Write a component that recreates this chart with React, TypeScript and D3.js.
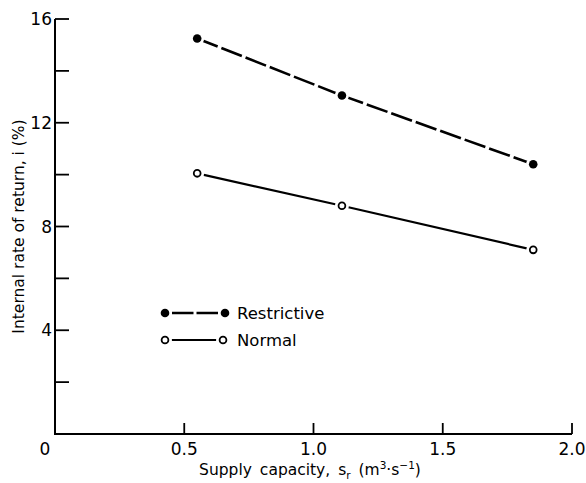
import * as d3 from "d3";

// values
const supply = [0.55, 1.11, 1.85];
const restrictive = [15.25, 13.05, 10.4];
const normal = [10.05, 8.8, 7.1];
const xTicks = [0.5, 1.0, 1.5, 2.0];
const yTicks = [2, 4, 6, 8, 10, 12, 14, 16];
const yLabels = [4, 8, 12, 16];

const W = 586;
const H = 483;
const FONT = "'DejaVu Sans', Verdana, sans-serif";

export default function App() {
  const x = d3.scaleLinear().domain([0, 2]).range([55, 572]);
  const y = d3.scaleLinear().domain([0, 16]).range([434, 19]);

  const line = d3
    .line<number>()
    .x((_, i) => x(supply[i]))
    .y((d) => y(d));

  // leave a small white gap around each marker, as in the print
  const marker = (cx: number, cy: number, filled: boolean, key: string) => (
    <g key={key}>
      <circle cx={cx} cy={cy} r={7} fill="#fff" />
      {filled ? (
        <circle cx={cx} cy={cy} r={4.3} fill="#000" />
      ) : (
        <circle cx={cx} cy={cy} r={3.4} fill="#fff" stroke="#000" strokeWidth={1.8} />
      )}
    </g>
  );

  return (
    <svg
      width={W}
      height={H}
      style={{ position: "absolute", left: 0, top: 0, background: "#fff" }}
      fontFamily={FONT}
    >
      {/* axes */}
      <path
        d={`M${x(0)},${y(16)}V${y(0)}H${x(2)}`}
        fill="none"
        stroke="#000"
        strokeWidth={2}
      />
      {yTicks.map((t) => (
        <line key={"yt" + t} x1={x(0)} x2={x(0) + 14} y1={y(t)} y2={y(t)} stroke="#000" strokeWidth={1.8} />
      ))}
      {xTicks.map((t) => (
        <line key={"xt" + t} x1={x(t)} x2={x(t)} y1={y(0)} y2={y(0) - 11} stroke="#000" strokeWidth={1.8} />
      ))}
      {yLabels.map((t) => (
        <text key={"yl" + t} x={x(0) - 3} y={y(t)} dy="0.36em" textAnchor="end" fontSize={17}>
          {t}
        </text>
      ))}
      <text x={x(0) - 10} y={y(0) + 21} textAnchor="middle" fontSize={17}>0</text>
      {xTicks.map((t) => (
        <text key={"xl" + t} x={x(t)} y={y(0) + 21} textAnchor="middle" fontSize={17}>
          {t.toFixed(1)}
        </text>
      ))}

      {/* axis titles */}
      <text
        transform={`translate(24,${(y(0) + y(16)) / 2}) rotate(-90)`}
        textAnchor="middle"
        fontSize={15.5}
      >
        Internal rate of return, i (%)
      </text>
      <text x={310} y={475} textAnchor="middle" fontSize={15.5} wordSpacing={3}>
        Supply capacity, s
        <tspan fontSize={10.5} dy={4}>r</tspan>
        <tspan dy={-4}> (m</tspan>
        <tspan fontSize={10.5} dy={-6}>3</tspan>
        <tspan dy={6}>·s</tspan>
        <tspan fontSize={10.5} dy={-6}>−1</tspan>
        <tspan dy={6}>)</tspan>
      </text>

      {/* series */}
      <path d={line(restrictive) ?? ""} fill="none" stroke="#000" strokeWidth={2.6} strokeDasharray="22,4" />
      <path d={line(normal) ?? ""} fill="none" stroke="#000" strokeWidth={2.2} />
      {restrictive.map((v, i) => marker(x(supply[i]), y(v), true, "r" + i))}
      {normal.map((v, i) => marker(x(supply[i]), y(v), false, "n" + i))}

      {/* legend */}
      <line x1={172} x2={218} y1={313} y2={313} stroke="#000" strokeWidth={2.6} strokeDasharray="21.5,3" />
      {marker(165, 313, true, "lr0")}
      {marker(225, 313, true, "lr1")}
      <text x={237} y={313} dy="0.36em" fontSize={16.5}>Restrictive</text>
      <line x1={165} x2={223} y1={340} y2={340} stroke="#000" strokeWidth={2.2} />
      {marker(165, 340, false, "ln0")}
      {marker(223, 340, false, "ln1")}
      <text x={237} y={340} dy="0.36em" fontSize={16.5}>Normal</text>
    </svg>
  );
}
